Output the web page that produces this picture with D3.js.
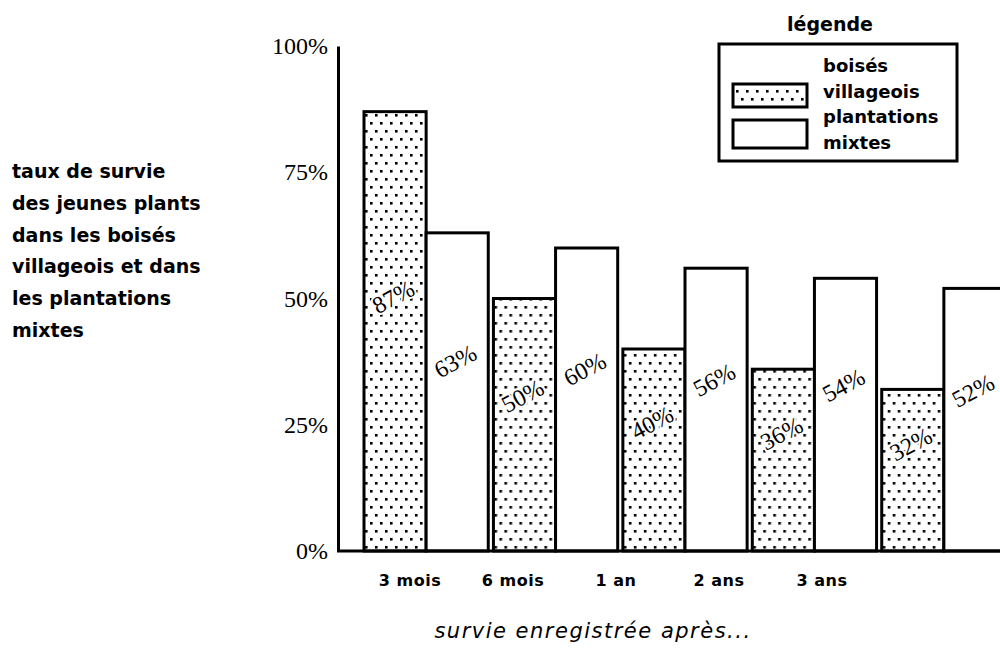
<!DOCTYPE html>
<html>
<head>
<meta charset="utf-8">
<script src="https://cdn.jsdelivr.net/npm/d3@7"></script>
<style>
  body { margin: 0; background: #fff; }
  text { font-family: "DejaVu Sans", sans-serif; fill: #000; }
</style>
</head>
<body>
<script>
var width = 1000,
	height = 648;

// data
var categories = ["3 mois", "6 mois", "1 an", "2 ans", "3 ans"];
var boises = [87, 50, 40, 36, 32];		// boisés villageois
var mixtes = [63, 60, 56, 54, 52];		// plantations mixtes
var seriesKeys = ["boises", "mixtes"];
var yTicks = [0, 25, 50, 75, 100];
var titleLines = ["taux de survie", "des jeunes plants", "dans les boisés", "villageois et dans", "les plantations", "mixtes"];
var legendLines = ["boisés", "villageois", "plantations", "mixtes"];
var xTitle = "survie enregistrée après...";

var rows = categories.map(function (c, i) {
	return { cat: c, boises: boises[i], mixtes: mixtes[i] };
});

var svg = d3.select("body")
		.append("svg")
		.attr("width", width)
		.attr("height", height);

// dotted fill
var pat = svg.append("defs").append("pattern")
	.attr("id", "dots")
	.attr("patternUnits", "userSpaceOnUse")
	.attr("width", 10)
	.attr("height", 16);
pat.append("rect").attr("x", 1).attr("y", 2).attr("width", 2.6).attr("height", 2.6).attr("fill", "#000");
pat.append("rect").attr("x", 6).attr("y", 10).attr("width", 2.6).attr("height", 2.6).attr("fill", "#000");

var y = d3.scaleLinear().domain([0, 100]).range([551, 46]);

var x0 = d3.scaleBand()
	.domain(categories)
	.range([364, 1006])
	.paddingInner(0.04)
	.paddingOuter(0);

var x1 = d3.scaleBand()
	.domain(seriesKeys)
	.range([0, x0.bandwidth()]);

// the x labels are not centred under the bars in the original
var xLab = d3.scalePoint().domain(categories).range([410, 822]);

// bars
var groups = svg.append("g").selectAll("g")
	.data(rows)
	.enter().append("g")
	.attr("transform", function (d) { return "translate(" + x0(d.cat) + ",0)"; });

groups.selectAll("rect")
	.data(function (d) { return seriesKeys.map(function (k) { return { key: k, value: d[k] }; }); })
	.enter().append("rect")
	.attr("x", function (d) { return x1(d.key); })
	.attr("y", function (d) { return y(d.value); })
	.attr("width", x1.bandwidth())
	.attr("height", function (d) { return y(0) - y(d.value); })
	.attr("fill", function (d) { return d.key == "boises" ? "url(#dots)" : "#fff"; })
	.attr("stroke", "#000")
	.attr("stroke-width", 3);

// value labels, written slanted inside the bars
groups.selectAll("text")
	.data(function (d) { return seriesKeys.map(function (k) { return { key: k, value: d[k] }; }); })
	.enter().append("text")
	.attr("transform", function (d) {
		return "translate(" + (x1(d.key) + x1.bandwidth() / 2 + 2) + "," + (y(d.value * 0.53) - 14) + ") rotate(-28)";
	})
	.attr("text-anchor", "middle")
	.style("font-size", "24px")
	.style("font-family", "'Liberation Serif', serif")
	.style("paint-order", "stroke")
	.attr("stroke", "#fff")
	.attr("stroke-width", 4)
	.text(function (d) { return d.value + "%"; });

// y axis
var yAxis = d3.axisLeft(y)
	.tickValues(yTicks)
	.tickSize(0)
	.tickPadding(10)
	.tickFormat(function (d) { return d + "%"; });

var ya = svg.append("g")
	.attr("transform", "translate(338,0)")
	.call(yAxis);
ya.select(".domain").attr("stroke", "#000").attr("stroke-width", 3);
ya.selectAll(".tick text")
	.style("font-size", "24px")
	.style("font-family", "'Liberation Serif', serif")
	.attr("fill", "#000");

// baseline
svg.append("line")
	.attr("x1", 337).attr("x2", width)
	.attr("y1", y(0)).attr("y2", y(0))
	.attr("stroke", "#000")
	.attr("stroke-width", 3);

// x labels
svg.append("g").selectAll("text")
	.data(categories)
	.enter().append("text")
	.attr("x", function (d) { return xLab(d); })
	.attr("y", 586)
	.attr("text-anchor", "middle")
	.style("font-size", "16px")
	.style("font-weight", "bold")
	.style("letter-spacing", "0.5px")
	.text(function (d) { return d; });

svg.append("text")
	.attr("x", 593)
	.attr("y", 638)
	.attr("text-anchor", "middle")
	.style("font-size", "21px")
	.style("font-style", "italic")
	.style("letter-spacing", "1.5px")
	.text(xTitle);

// side title
svg.append("g").selectAll("text")
	.data(titleLines)
	.enter().append("text")
	.attr("x", 12)
	.attr("y", function (d, i) { return 178 + i * 31.8; })
	.style("font-size", "19px")
	.style("font-weight", "bold")
	.text(function (d) { return d; });

// legend
var leg = svg.append("g");
leg.append("text")
	.attr("x", 830).attr("y", 31)
	.attr("text-anchor", "middle")
	.style("font-size", "19px")
	.style("font-weight", "bold")
	.text("légende");
leg.append("rect")
	.attr("x", 719).attr("y", 44).attr("width", 238).attr("height", 117)
	.attr("fill", "#fff").attr("stroke", "#000").attr("stroke-width", 3);
leg.selectAll(".sw")
	.data(seriesKeys)
	.enter().append("rect")
	.attr("class", "sw")
	.attr("x", 733)
	.attr("y", function (d, i) { return 84 + i * 36; })
	.attr("width", 74)
	.attr("height", function (d, i) { return 23 + i * 5; })
	.attr("fill", function (d) { return d == "boises" ? "url(#dots)" : "#fff"; })
	.attr("stroke", "#000")
	.attr("stroke-width", 3);
leg.selectAll(".lt")
	.data(legendLines)
	.enter().append("text")
	.attr("class", "lt")
	.attr("x", 823)
	.attr("y", function (d, i) { return 72 + i * 25.5; })
	.style("font-size", "18px")
	.style("font-weight", "bold")
	.text(function (d) { return d; });
</script>
</body>
</html>
